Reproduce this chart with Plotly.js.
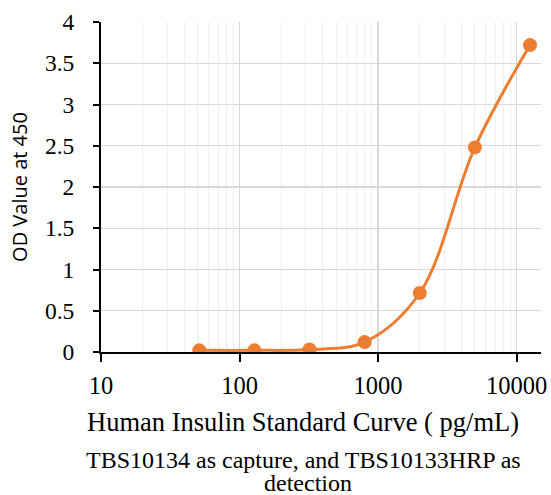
<!DOCTYPE html>
<html><head><meta charset="utf-8">
<script src="https://cdn.plot.ly/plotly-3.0.1.min.js"></script>
<style>body{margin:0;background:#fff}#c{width:551px;height:495px}</style>
</head><body><div id="c"></div>
<script>
const concentrations = [51.2, 128, 320, 800, 2000, 5000, 12500];
const odValues = [0.02, 0.02, 0.03, 0.12, 0.715, 2.48, 3.72];
const xTickVals = [10, 100, 1000, 10000];
const xTickText = ["10", "100", "1000", "10000"];
const xTitle = "Human Insulin Standard Curve ( pg/mL)";
const noteLines = ["TBS10134 as capture, and TBS10133HRP as", "detection"];
const serif = "Liberation Serif";
const trace = {
  x: concentrations, y: odValues, type: 'scatter', mode: 'lines+markers',
  line: {color: '#ED7D31', width: 3, shape: 'spline', smoothing: 1},
  marker: {color: '#ED7D31', size: 14}, hoverinfo: 'none'
};
const layout = {
  width: 551, height: 495,
  margin: {l: 101, r: 10, t: 22, b: 143},
  paper_bgcolor: '#fff', plot_bgcolor: '#fff',
  showlegend: false,
  xaxis: {
    type: 'log', range: [1, Math.log10(15000)],
    tickvals: xTickVals, ticktext: xTickText,
    showgrid: true, gridcolor: '#d9d9d9', gridwidth: 1.3,
    minor: {dtick: 'D1', showgrid: true, gridcolor: '#eeeeee', gridwidth: 1, ticks: ''},
    showline: true, linecolor: '#000', linewidth: 2,
    ticks: 'outside', ticklen: 8, tickwidth: 2, tickcolor: '#000',
    ticklabelstandoff: 3,
    tickfont: {family: serif, size: 24.5, color: '#000'},
    zeroline: false
  },
  yaxis: {
    range: [0, 4], dtick: 0.5,
    showgrid: true, gridcolor: '#d9d9d9', gridwidth: 1.3,
    showline: true, linecolor: '#000', linewidth: 2,
    ticks: 'outside', ticklen: 6, tickwidth: 2, tickcolor: '#000',
    ticklabelstandoff: 14,
    tickfont: {family: serif, size: 23.5, color: '#000'},
    zeroline: false,
    title: {text: 'OD Value at 450', font: {family: 'Open Sans', size: 20, color: '#000'}, standoff: 12}
  },
  annotations: [
    {text: xTitle, xref: 'paper', yref: 'paper', x: 0.46, y: -0.212, xanchor: 'center', yanchor: 'middle',
     showarrow: false, font: {family: serif, size: 26.5, color: '#000'}},
    {text: noteLines[0], xref: 'paper', yref: 'paper', x: 0.46, y: -0.327, xanchor: 'center', yanchor: 'middle',
     showarrow: false, font: {family: serif, size: 24, color: '#000'}},
    {text: noteLines[1], xref: 'paper', yref: 'paper', x: 0.47, y: -0.397, xanchor: 'center', yanchor: 'middle',
     showarrow: false, font: {family: serif, size: 24, color: '#000'}}
  ]
};
Plotly.newPlot('c', [trace], layout, {displayModeBar: false, staticPlot: true});
</script></body></html>
